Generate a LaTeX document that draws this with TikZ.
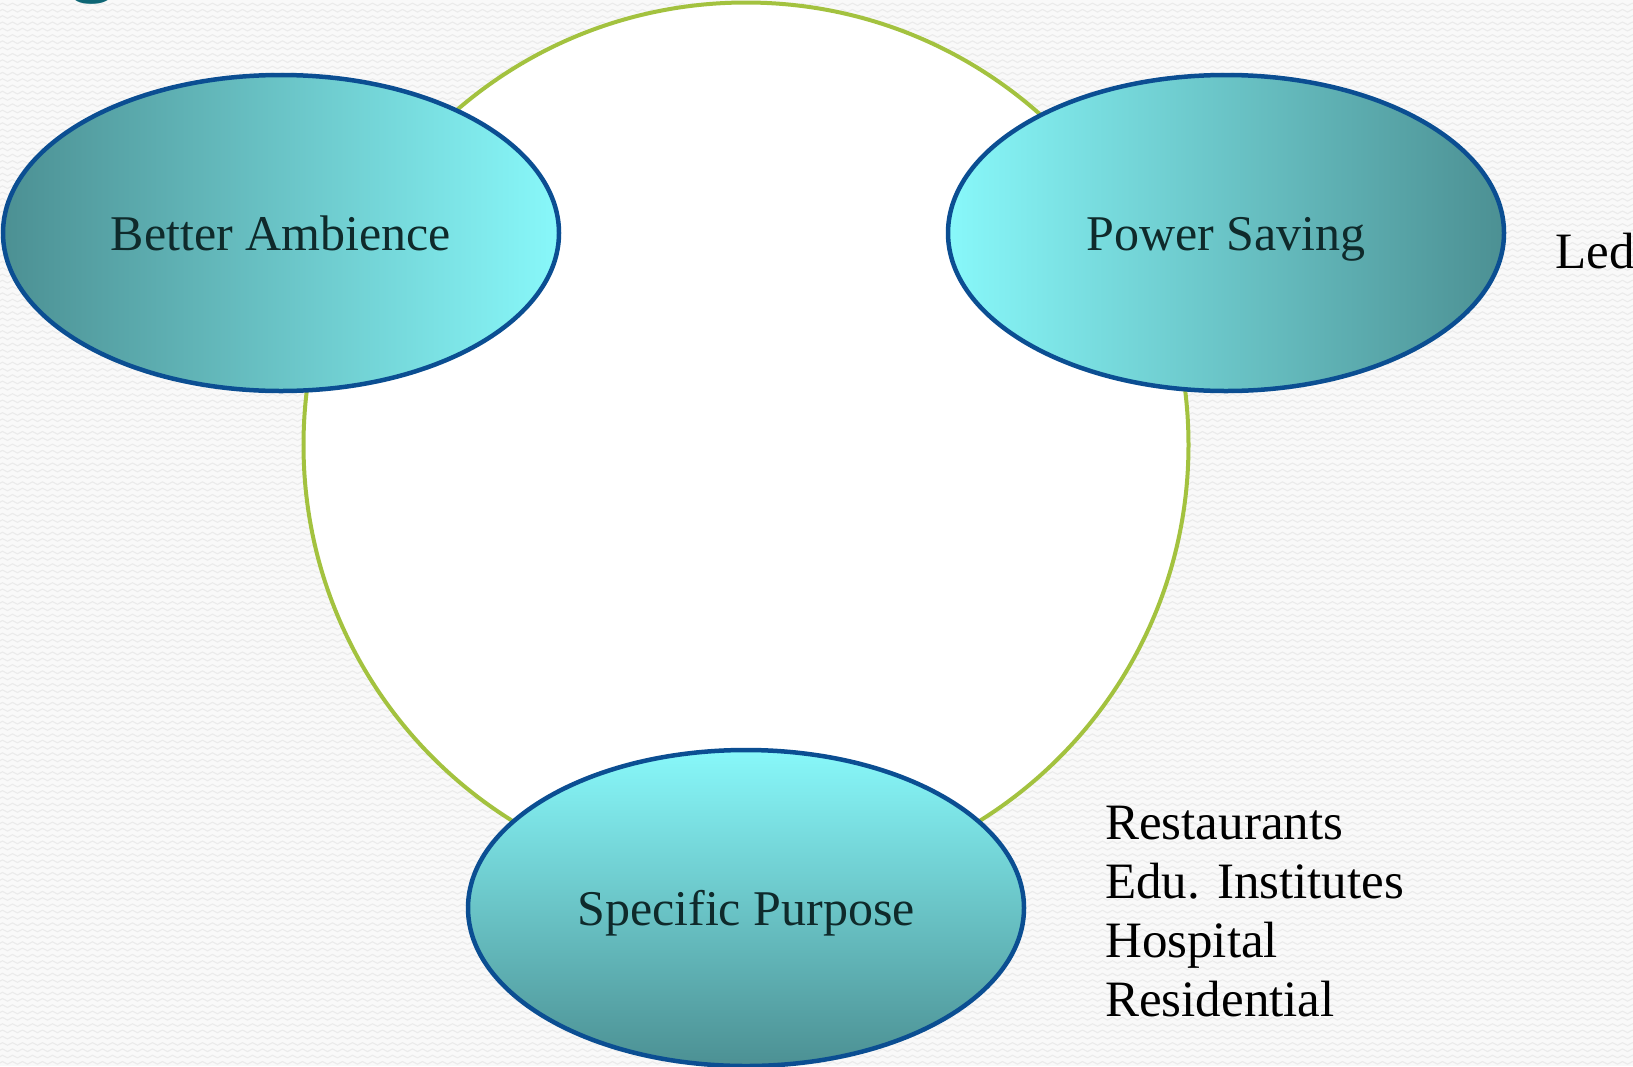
\documentclass[tikz,border=0pt]{standalone}
\usepackage{fontspec}
\setmainfont{Liberation Serif}
\usetikzlibrary{shapes.geometric,patterns}
\definecolor{bgc}{HTML}{F9F9F9}
\definecolor{wavec}{HTML}{EBEBEB}
\definecolor{ringc}{HTML}{A3C23F}
\definecolor{edgec}{HTML}{0B4E92}
\definecolor{darkc}{HTML}{4C9093}
\definecolor{lightc}{HTML}{88F8FA}
\definecolor{txtc}{HTML}{0F2A2B}
\definecolor{titlec}{HTML}{0E6675}
\pgfdeclarepatternformonly{bgwaves}{\pgfpoint{-1pt}{-1pt}}{\pgfpoint{11pt}{7.3pt}}{\pgfpoint{10pt}{6.3pt}}{
  \pgfsetlinewidth{1.1pt}
  \pgfpathmoveto{\pgfpoint{0pt}{3.15pt}}
  \pgfpathcurveto{\pgfpoint{1.5pt}{4.9pt}}{\pgfpoint{3.5pt}{4.9pt}}{\pgfpoint{5pt}{3.15pt}}
  \pgfpathcurveto{\pgfpoint{6.5pt}{1.4pt}}{\pgfpoint{8.5pt}{1.4pt}}{\pgfpoint{10pt}{3.15pt}}
  \pgfusepath{stroke}
}
\tikzset{
  blob/.style={ellipse, draw=edgec, line width=4.5pt, minimum width=556pt, minimum height=316pt,
    inner sep=0pt, font=\fontsize{50}{58}\selectfont, text=txtc, text height=34pt, text depth=0pt},
  side/.style={font=\fontsize{51}{59}\selectfont, text=black, align=left, inner sep=0pt}
}
\begin{document}
\begin{tikzpicture}[x=1pt,y=-1pt]
\useasboundingbox (0,0) rectangle (1633,1066);
\clip (0,0) rectangle (1633,1066);
\fill[bgc] (0,0) rectangle (1633,1066);
\fill[pattern=bgwaves, pattern color=wavec] (0,0) rectangle (1633,1066);
\node[titlec, font=\fontsize{90}{90}\selectfont\bfseries, anchor=base, inner sep=0pt] (title) at (93,-16) {g};
\node[circle, draw=ringc, fill=white, line width=4pt, minimum size=885pt, inner sep=0pt] (ring) at (746,445) {};
\node[blob, left color=darkc, right color=lightc] (amb) at (281,233) {Better Ambience};
\node[blob, left color=lightc, right color=darkc] (pow) at (1226,233) {Power Saving};
\node[blob, top color=lightc, bottom color=darkc] (spec) at (746,908) {Specific Purpose};
\node[side, anchor=base west] (led) at (1555,268) {Led};
\node[side, anchor=north west] (list) at (1105,806) {Restaurants\\Edu. Institutes\\Hospital\\Residential};
\end{tikzpicture}
\end{document}
